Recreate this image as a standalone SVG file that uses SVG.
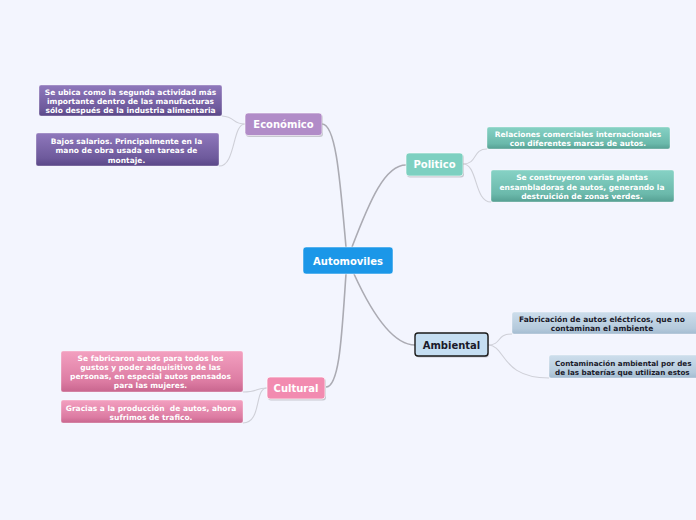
<svg xmlns="http://www.w3.org/2000/svg" width="696" height="520" viewBox="0 0 696 520">
<defs>
<linearGradient id="gEco" x1="0" y1="0" x2="0" y2="1"><stop offset="0" stop-color="#8f78bc"/><stop offset="0.75" stop-color="#6e5a9c"/><stop offset="1" stop-color="#5a4788"/></linearGradient>
<linearGradient id="gPol" x1="0" y1="0" x2="0" y2="1"><stop offset="0" stop-color="#86d2c5"/><stop offset="0.75" stop-color="#6bb9ab"/><stop offset="1" stop-color="#559f92"/></linearGradient>
<linearGradient id="gAmb" x1="0" y1="0" x2="0" y2="1"><stop offset="0" stop-color="#cddeec"/><stop offset="0.75" stop-color="#b5cadc"/><stop offset="1" stop-color="#a2bbd0"/></linearGradient>
<linearGradient id="gCul" x1="0" y1="0" x2="0" y2="1"><stop offset="0" stop-color="#f3a0c0"/><stop offset="0.75" stop-color="#dc7ba2"/><stop offset="1" stop-color="#c8658e"/></linearGradient>
</defs>
<style>
.main{stroke:#ababb3;stroke-width:1.6;fill:none}
.sub{stroke:#cfd0d8;stroke-width:1.1;fill:none}
.shadow{fill:#000;opacity:0.18}
.mt{font-family:"DejaVu Sans",Verdana,sans-serif;font-weight:bold;font-size:10px;text-anchor:middle;fill:#fff}
.ct{font-family:"DejaVu Sans",Verdana,sans-serif;font-weight:bold;font-size:7.5px;text-anchor:middle;fill:#fff}
.st{text-anchor:start;font-size:7.2px}
.dk{fill:#1a1a2a}
.hl{stroke:#ffffff;stroke-opacity:0.45;stroke-width:0.8}
</style>
<rect width="696" height="520" fill="#f3f5fe"/>
<g id="connectors">
<path class="main" d="M346,247 C340,180 336,124 322,124"/>
<path class="main" d="M352,247 C370,200 385,165 406,165"/>
<path class="main" d="M346,274 C342,330 340,387 326,387"/>
<path class="main" d="M354,274 C375,320 395,345 415,345"/>
<path class="sub" d="M245,124 C232,124 236,117 222,116"/>
<path class="sub" d="M245,124 C232,124 236,166 219,166"/>
<path class="sub" d="M463,164 C478,164 472,149 487,149"/>
<path class="sub" d="M463,164 C478,164 474,202 491,202"/>
<path class="sub" d="M488,345 C502,345 496,334 512,334"/>
<path class="sub" d="M488,345 C506,345 500,378 549,378"/>
<path class="sub" d="M267,388 C254,388 260,392 243,392"/>
<path class="sub" d="M267,388 C254,388 262,423 243,423"/>
</g>
<g id="automoviles">
<rect x="303" y="247" width="90" height="27" rx="3" fill="#1b97e8" stroke="#ffffff" stroke-opacity="0.5"/>
<text class="mt" x="348" y="264.5">Automoviles</text>
</g>
<g id="economico">
<rect class="shadow" x="246" y="114.5" width="77" height="22.5" rx="3"/>
<rect x="245" y="113" width="77" height="22.5" rx="3" fill="#b18cc8" stroke="#ffffff" stroke-opacity="0.6"/>
<text class="mt" x="283.5" y="128">Económico</text>
</g>
<g id="eco1">
<rect x="39" y="85" width="183" height="31" rx="2" fill="url(#gEco)" class="hl"/>
<text class="ct" x="130.5" y="95">Se ubica como la segunda actividad más</text>
<text class="ct" x="130.5" y="104">importante dentro de las manufacturas</text>
<text class="ct" x="130.5" y="113">sólo después de la industria alimentaria</text>
</g>
<g id="eco2">
<rect x="36" y="133" width="183" height="33" rx="2" fill="url(#gEco)" class="hl"/>
<text class="ct" x="126.5" y="144">Bajos salarios. Principalmente en la</text>
<text class="ct" x="126.5" y="153">mano de obra usada en tareas de</text>
<text class="ct" x="126.5" y="162.5">montaje.</text>
</g>
<g id="politico">
<rect class="shadow" x="407" y="154.5" width="57" height="23" rx="3"/>
<rect x="406" y="153" width="57" height="23" rx="3" fill="#7dd0c1" stroke="#ffffff" stroke-opacity="0.6"/>
<text class="mt" x="434.5" y="168">Politico</text>
</g>
<g id="pol1">
<rect x="487" y="127" width="183" height="22" rx="2" fill="url(#gPol)" class="hl"/>
<text class="ct" x="578" y="137">Relaciones comerciales internacionales</text>
<text class="ct" x="578" y="146">con diferentes marcas de autos.</text>
</g>
<g id="pol2">
<rect x="491" y="170" width="183" height="32" rx="2" fill="url(#gPol)" class="hl"/>
<text class="ct" x="582" y="180">Se construyeron varias plantas</text>
<text class="ct" x="582" y="189.5">ensambladoras de autos, generando la</text>
<text class="ct" x="582" y="198.5">destruición de zonas verdes.</text>
</g>
<g id="ambiental">
<rect class="shadow" x="416" y="334.5" width="73" height="23" rx="3"/>
<rect x="415" y="333" width="73" height="23" rx="3" fill="#c5def2" stroke="#1a1a1a" stroke-width="1.4"/>
<text class="mt dk" x="451.5" y="348.5">Ambiental</text>
</g>
<g id="amb1">
<rect x="512" y="312" width="186" height="22" rx="2" fill="url(#gAmb)" class="hl"/>
<text class="ct dk" x="602" y="322">Fabricación de autos eléctricos, que no</text>
<text class="ct dk" x="602" y="331">contaminan el ambiente</text>
</g>
<g id="amb2">
<rect x="549" y="355" width="160" height="23" rx="2" fill="url(#gAmb)" class="hl"/>
<text class="ct dk st" x="555" y="365.5">Contaminación ambiental por des</text>
<text class="ct dk st" x="555" y="374.5">de las baterías que utilizan estos</text>
</g>
<g id="cultural">
<rect class="shadow" x="268" y="378.5" width="58" height="22" rx="3"/>
<rect x="267" y="377" width="58" height="22" rx="3" fill="#f28bb0" stroke="#ffffff" stroke-opacity="0.7"/>
<text class="mt" x="296" y="391.5">Cultural</text>
</g>
<g id="cul1">
<rect x="61" y="351" width="182" height="41" rx="2" fill="url(#gCul)" class="hl"/>
<text class="ct" x="150.5" y="361">Se fabricaron autos para todos los</text>
<text class="ct" x="150.5" y="369.5">gustos y poder adquisitivo de las</text>
<text class="ct" x="150.5" y="378.5">personas, en especial autos pensados</text>
<text class="ct" x="150.5" y="387.5">para las mujeres.</text>
</g>
<g id="cul2">
<rect x="61" y="400" width="182" height="23" rx="2" fill="url(#gCul)" class="hl"/>
<text class="ct" x="151" y="410.5" xml:space="preserve">Gracias a la producción  de autos, ahora</text>
<text class="ct" x="151" y="419.5">sufrimos de trafico.</text>
</g>
</svg>
